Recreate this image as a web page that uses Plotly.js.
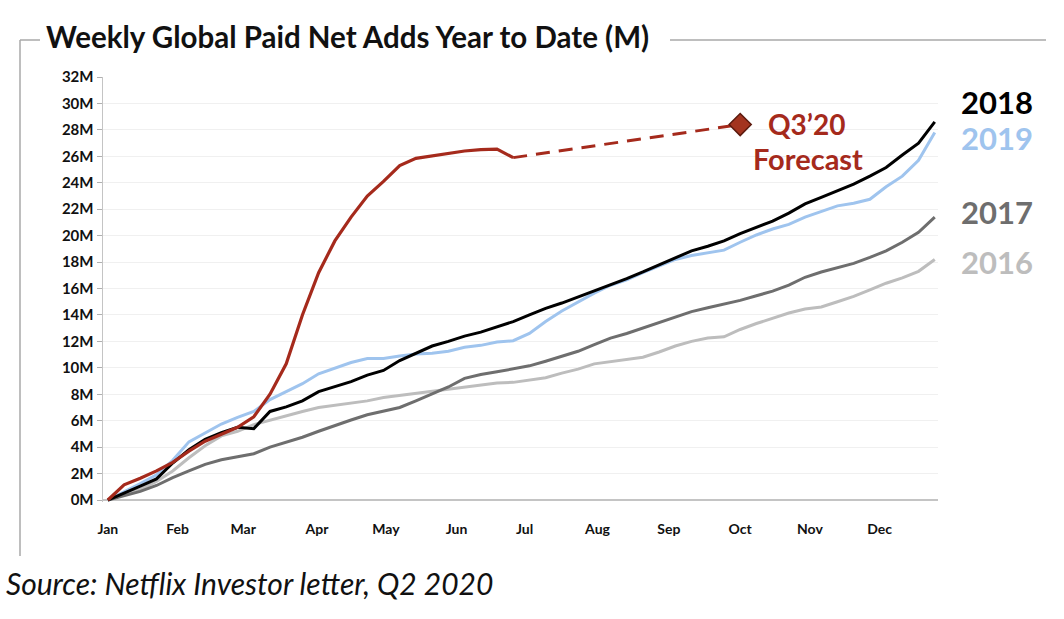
<!DOCTYPE html>
<html>
<head>
<meta charset="utf-8">
<script src="https://cdn.plot.ly/plotly-3.0.1.min.js"></script>
<style>
  html, body { margin: 0; padding: 0; background: #fff; }
  #plot { width: 1064px; height: 619px; }
</style>
</head>
<body>
<div id="plot"></div>
<script>
// weeks since Jan 1
var weeks = [0, 1, 2, 3, 4, 5, 6, 7, 8, 9, 10, 11, 12, 13, 14, 15, 16, 17, 18, 19,
  20, 21, 22, 23, 24, 25, 26, 27, 28, 29, 30, 31, 32, 33, 34, 35, 36, 37, 38, 39,
  40, 41, 42, 43, 44, 45, 46, 47, 48, 49, 50, 51];

// cumulative paid net adds, millions
var adds2016 = [0, 0.4, 0.8, 1.4, 2.2, 3.2, 4.1, 4.85, 5.2, 5.7, 6.05, 6.35, 6.7, 7.0, 7.15,
  7.3, 7.5, 7.75, 7.9, 8.05, 8.2, 8.35, 8.55, 8.7, 8.85, 8.9, 9.05, 9.25, 9.6, 9.9, 10.3,
  10.45, 10.6, 10.8, 11.2, 11.65, 12.0, 12.25, 12.35, 12.9, 13.35, 13.75, 14.15, 14.45,
  14.6, 15.0, 15.4, 15.9, 16.4, 16.8, 17.3, 18.2];
var adds2017 = [0, 0.3, 0.65, 1.1, 1.7, 2.2, 2.7, 3.05, 3.3, 3.5, 4.0, 4.35, 4.75, 5.2, 5.65,
  6.05, 6.45, 6.75, 7.0, 7.5, 8.0, 8.55, 9.2, 9.5, 9.7, 9.9, 10.15, 10.5, 10.85, 11.25,
  11.75, 12.25, 12.6, 13.0, 13.4, 13.85, 14.25, 14.55, 14.8, 15.1, 15.45, 15.8, 16.25,
  16.85, 17.25, 17.55, 17.9, 18.35, 18.85, 19.5, 20.25, 21.4];
var adds2018 = [0, 0.5, 1.05, 1.6, 2.8, 3.8, 4.6, 5.1, 5.5, 5.4, 6.7, 7.05, 7.5, 8.2, 8.55,
  8.95, 9.45, 9.8, 10.55, 11.1, 11.65, 12.0, 12.4, 12.7, 13.1, 13.5, 14.0, 14.5, 14.9,
  15.35, 15.85, 16.3, 16.75, 17.25, 17.8, 18.35, 18.85, 19.2, 19.6, 20.15, 20.6, 21.1,
  21.7, 22.4, 22.9, 23.4, 23.9, 24.5, 25.15, 26.1, 27.0, 28.6];
var adds2019 = [0, 0.6, 1.25, 1.9, 3.0, 4.4, 5.1, 5.75, 6.25, 6.7, 7.6, 8.2, 8.8, 9.55, 9.95,
  10.4, 10.7, 10.7, 10.9, 11.05, 11.1, 11.25, 11.55, 11.7, 11.95, 12.05, 12.6, 13.5, 14.3,
  15.0, 15.65, 16.25, 16.65, 17.2, 17.7, 18.2, 18.5, 18.7, 18.9, 19.5, 20.05, 20.5, 20.85,
  21.4, 21.8, 22.25, 22.45, 22.75, 23.7, 24.5, 25.7, 27.8];
// 2020 actuals only run to early July
var weeks2020 = [0, 1, 2, 3, 4, 5, 6, 7, 8, 9, 10, 11, 12, 13, 14, 15, 16, 17, 18, 19,
  20, 21, 22, 23, 24, 25];
var adds2020 = [0, 1.15, 1.65, 2.2, 2.85, 3.7, 4.45, 5.0, 5.5, 6.3, 8.0, 10.3, 14.0, 17.2,
  19.6, 21.4, 23.0, 24.1, 25.3, 25.85, 26.05, 26.25, 26.4, 26.5, 26.55, 25.9];

// Q3'20 forecast
var forecastWeeks = [25, 39];
var forecastAdds = [25.9, 28.4];

var monthLabels = ["Jan", "Feb", "Mar", "Apr", "May", "Jun", "Jul", "Aug", "Sep", "Oct", "Nov", "Dec"];
var monthWeeks = [0, 4.3, 8.35, 12.9, 17.15, 21.5, 25.7, 30.2, 34.6, 39.0, 43.3, 47.6];

var RED = "#a52a1c";
var BLUE = "#9fc4ee";
var DARK = "#6e6e6e";
var LIGHT = "#bdbdbd";

// pixel -> paper helpers (plot area is 103..938 x 77..502)
function px(x) { return (x - 103) / 835; }
function py(y) { return (502 - y) / 425; }

function yearLine(x, y, color, width) {
  return {
    x: x, y: y, type: "scatter", mode: "lines",
    line: {color: color, width: width},
    hoverinfo: "skip"
  };
}

var data = [
  yearLine(weeks, adds2016, LIGHT, 3),
  yearLine(weeks, adds2017, DARK, 3),
  yearLine(weeks, adds2019, BLUE, 3),
  yearLine(weeks, adds2018, "#000000", 3),
  yearLine(weeks2020, adds2020, RED, 3.2),
  {
    x: forecastWeeks, y: forecastAdds, type: "scatter", mode: "lines",
    line: {color: RED, width: 3, dash: "14px,9px"}
  },
  {
    x: [forecastWeeks[1]], y: [forecastAdds[1]], type: "scatter", mode: "markers",
    marker: {symbol: "diamond", size: 17, color: "#a3341f", line: {color: "#5c1a0e", width: 1.5}}
  }
];

var FAMILY = "Lato, 'Open Sans', sans-serif";

function label(text, x, y, color, size) {
  return {
    text: text, xref: "paper", yref: "paper", x: px(x), y: py(y),
    xanchor: "center", yanchor: "middle", showarrow: false,
    font: {family: FAMILY, weight: 700, size: size, color: color}
  };
}

var frame = {color: "#a8a8a8", width: 1.5};

var layout = {
  width: 1064,
  height: 619,
  margin: {l: 103, r: 126, t: 77, b: 117},
  paper_bgcolor: "#ffffff",
  plot_bgcolor: "#ffffff",
  showlegend: false,
  title: {
    text: "Weekly Global Paid Net Adds Year to Date (M)",
    xref: "container", yref: "container",
    x: 46 / 1064, xanchor: "left",
    y: 1 - 38 / 619, yanchor: "middle",
    font: {family: FAMILY, weight: 700, size: 29.5, color: "#111111"}
  },
  xaxis: {
    range: [-0.3, 51.2],
    tickvals: monthWeeks,
    ticktext: monthLabels,
    showgrid: false,
    zeroline: false,
    showline: false,
    ticks: "",
    ticklabelstandoff: 17,
    tickfont: {family: FAMILY, weight: 700, size: 14, color: "#111111"},
    fixedrange: true
  },
  yaxis: {
    range: [-0.15, 32],
    dtick: 2,
    ticksuffix: "M",
    showgrid: true,
    gridcolor: "#f0f0f0",
    gridwidth: 1,
    zeroline: true,
    zerolinecolor: "#c4c4c4",
    zerolinewidth: 2,
    showline: true,
    linecolor: "#c4c4c4",
    linewidth: 1.5,
    ticks: "outside",
    ticklen: 5,
    tickcolor: "#b0b0b0",
    tickfont: {family: FAMILY, weight: 700, size: 15, color: "#111111"},
    fixedrange: true
  },
  shapes: [
    {type: "line", xref: "paper", yref: "paper", x0: px(20), x1: px(40), y0: py(40), y1: py(40), line: frame},
    {type: "line", xref: "paper", yref: "paper", x0: px(670), x1: px(1046), y0: py(40), y1: py(40), line: frame},
    {type: "line", xref: "paper", yref: "paper", x0: px(20), x1: px(20), y0: py(40), y1: py(556), line: frame}
  ],
  annotations: [
    label("2018", 997, 102, "#000000", 31),
    label("2019", 997, 138, BLUE, 31),
    label("2017", 997, 212, DARK, 31),
    label("2016", 997, 262, LIGHT, 31),
    label("Q3\u201920", 807, 124, RED, 28),
    label("Forecast", 808, 158, RED, 29),
    {
      text: "Source: Netflix Investor letter, Q2 2020",
      xref: "paper", yref: "paper", x: px(4), y: py(583),
      xanchor: "left", yanchor: "middle", showarrow: false,
      font: {family: FAMILY, style: "italic", size: 30, color: "#111111"}
    }
  ]
};

Plotly.newPlot("plot", data, layout, {displayModeBar: false, staticPlot: true});
</script>
</body>
</html>
